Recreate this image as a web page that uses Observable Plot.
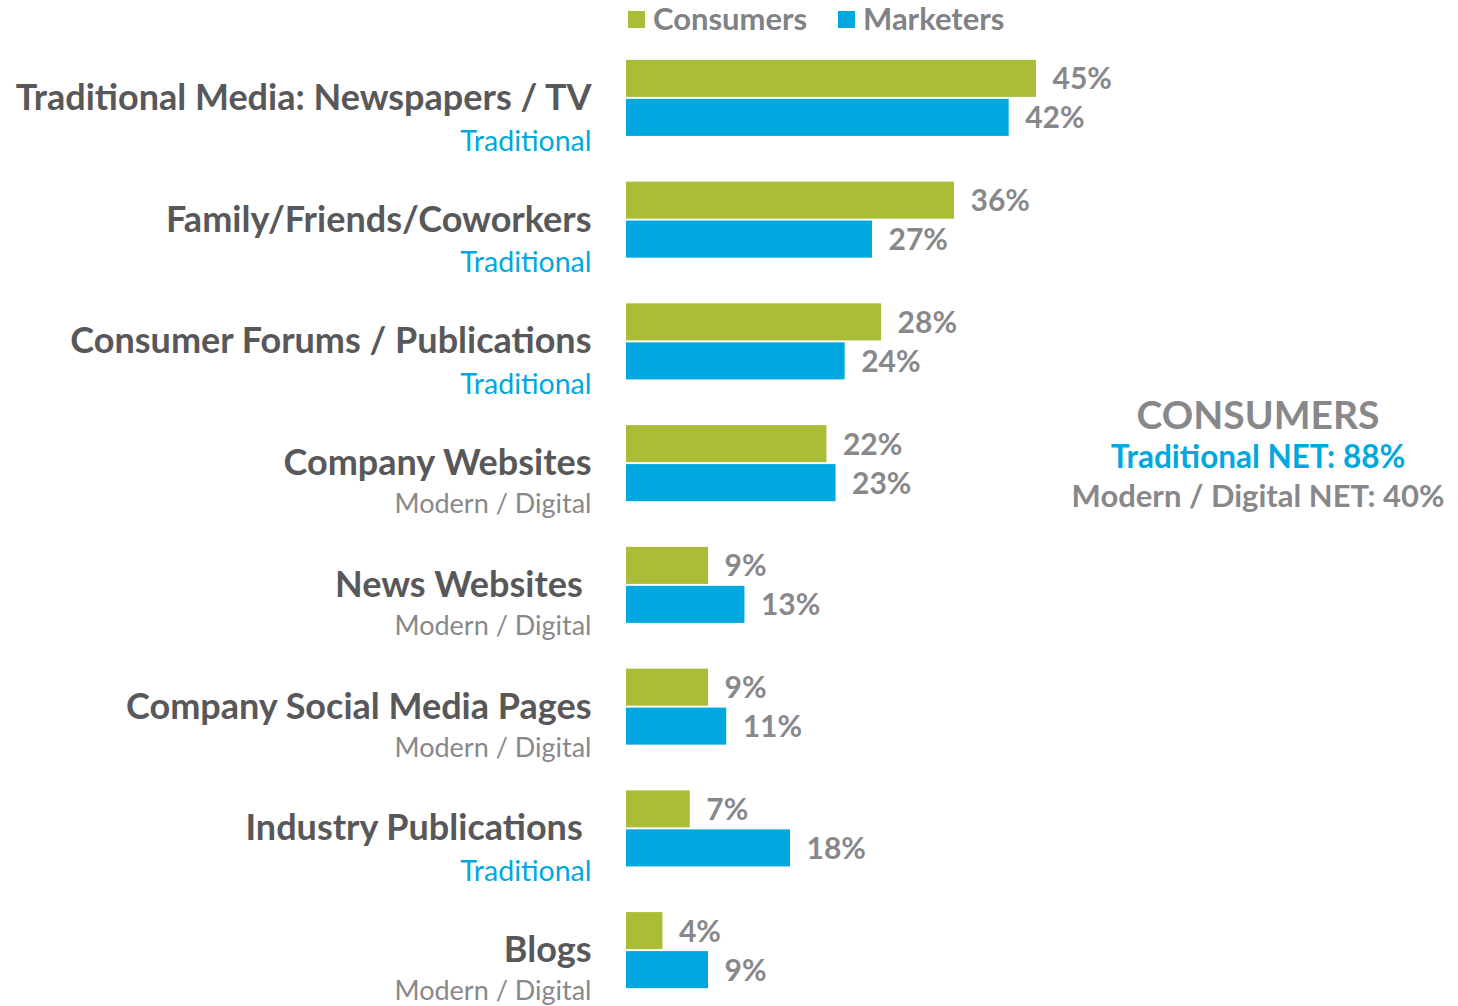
<!DOCTYPE html>
<html>
<head>
<meta charset="utf-8">
<script src="https://cdn.jsdelivr.net/npm/d3@7"></script>
<script src="https://cdn.jsdelivr.net/npm/@observablehq/plot@0.6"></script>
<style>
  html, body { margin: 0; padding: 0; background: #fff; overflow: hidden; width: 1458px; height: 1006px; }
  body { position: relative; font-family: Lato, "Open Sans", sans-serif; }
  #legend { height: 37px; position: relative; }
  .sw { position: absolute; top: 11px; width: 17px; height: 17px; }
  .lt { position: absolute; top: 0px; font-size: 31px; font-weight: 700; color: #808285; line-height: 37px; }
  #note { position: absolute; left: 1058px; width: 400px; top: 391px; text-align: center; font-weight: 700; }
  #note div { white-space: nowrap; }
</style>
</head>
<body>
<div id="legend"></div>
<div id="chart"></div>
<div id="note"></div>
<script>
const categories = [
  "Traditional Media: Newspapers / TV",
  "Family/Friends/Coworkers",
  "Consumer Forums / Publications",
  "Company Websites",
  "News Websites\u00a0",
  "Company Social Media Pages",
  "Industry Publications\u00a0",
  "Blogs"
];
const types = ["Traditional", "Traditional", "Traditional", "Modern / Digital", "Modern / Digital", "Modern / Digital", "Traditional", "Modern / Digital"];
const seriesNames = ["Consumers", "Marketers"];
const consumers = [45, 36, 28, 22, 9, 9, 7, 4];
const marketers = [42, 27, 24, 23, 13, 11, 18, 9];
const noteLines = ["CONSUMERS", "Traditional NET: 88%", "Modern / Digital NET: 40%"];

const GREEN = "#abbd37", BLUE = "#00a8df", DARK = "#58585a", GRAY = "#88888b";
const FONT = "Lato, 'Open Sans', sans-serif";

const rows = [];
categories.forEach((c, i) => {
  rows.push({category: c, series: "Consumers", value: consumers[i]});
  rows.push({category: c, series: "Marketers", value: marketers[i]});
});
const cats = categories.map((c, i) => ({category: c, type: types[i]}));

const chart = Plot.plot({
  width: 1458,
  height: 974,
  marginLeft: 626,
  marginRight: 422,
  marginTop: 0,
  marginBottom: 0,
  style: {fontFamily: FONT, background: "white"},
  x: {domain: [0, 45], axis: null},
  y: {domain: seriesNames, paddingInner: 0.05, paddingOuter: 0.586, round: false, axis: null},
  fy: {domain: categories, padding: 0, round: false, axis: null},
  color: {domain: seriesNames, range: [GREEN, BLUE]},
  marks: [
    Plot.barX(rows, {x: "value", y: "series", fy: "category", fill: "series"}),
    Plot.text(rows, {x: "value", y: "series", fy: "category", text: d => d.value + "%", dx: 16, dy: 1, textAnchor: "start",
      fill: GRAY, fontSize: 30, fontWeight: 700, fontFamily: FONT}),
    Plot.text(cats, {fy: "category", text: "category", frameAnchor: "left", dx: -35, textAnchor: "end",
      fill: DARK, fontSize: 36, fontWeight: 700, fontFamily: FONT}),
    Plot.text(cats.filter(d => d.type === "Traditional"), {fy: "category", text: "type", frameAnchor: "left", dx: -35, dy: 43, textAnchor: "end",
      fill: BLUE, fontSize: 28.5, fontWeight: 400, fontFamily: FONT}),
    Plot.text(cats.filter(d => d.type !== "Traditional"), {fy: "category", text: "type", frameAnchor: "left", dx: -35, dy: 41, textAnchor: "end",
      fill: GRAY, fontSize: 27, fontWeight: 400, fontFamily: FONT})
  ]
});
document.getElementById("chart").appendChild(chart);

// legend
const legend = document.getElementById("legend");
const legPos = [[628, 653], [838, 863]];
seriesNames.forEach((s, i) => {
  const sw = document.createElement("div");
  sw.className = "sw"; sw.style.left = legPos[i][0] + "px";
  sw.style.background = i === 0 ? GREEN : BLUE;
  legend.appendChild(sw);
  const t = document.createElement("div");
  t.className = "lt"; t.style.left = legPos[i][1] + "px"; t.textContent = s;
  legend.appendChild(t);
});

// annotation
const note = document.getElementById("note");
const noteStyles = [
  {fontSize: "39px", color: GRAY, lineHeight: "46px"},
  {fontSize: "31.5px", color: BLUE, lineHeight: "39px"},
  {fontSize: "31px", color: GRAY, lineHeight: "38px"}
];
noteLines.forEach((l, i) => {
  const d = document.createElement("div");
  d.textContent = l;
  Object.assign(d.style, noteStyles[i]);
  note.appendChild(d);
});
</script>
</body>
</html>
